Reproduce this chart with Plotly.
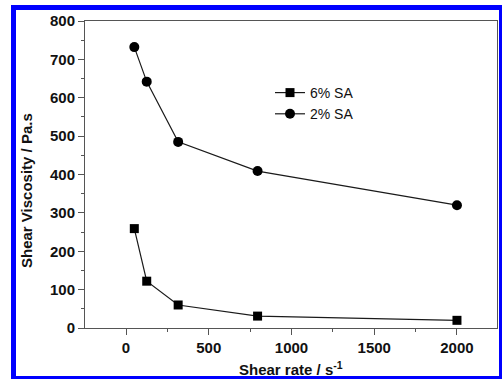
import plotly.graph_objects as go

# Shear rate (s^-1) and shear viscosity (Pa.s) for two sodium alginate solutions
shear_rate = [50, 125, 315, 795, 2000]
visc_6pct = [259, 122, 60, 31, 20]
visc_2pct = [732, 642, 485, 409, 320]
series_names = ["6% SA", "2% SA"]
x_ticks = [0, 500, 1000, 1500, 2000]
y_ticks = [0, 100, 200, 300, 400, 500, 600, 700, 800]

W, H = 502, 379
L, R, T, B = 85, 5, 21, 51
pw, ph = W - L - R, H - T - B


def px_x(p):
    return (p - L) / pw


def px_y(p):
    return (H - B - p) / ph


fig = go.Figure()
fig.add_trace(go.Scatter(
    x=shear_rate, y=visc_6pct, name=series_names[0], mode="lines+markers",
    line=dict(color="#1a1a1a", width=1.2),
    marker=dict(symbol="square", size=9, color="#000000"),
))
fig.add_trace(go.Scatter(
    x=shear_rate, y=visc_2pct, name=series_names[1], mode="lines+markers",
    line=dict(color="#1a1a1a", width=1.2),
    marker=dict(symbol="circle", size=10, color="#000000"),
))

axis_common = dict(
    showline=True, linecolor="#555555", linewidth=1, mirror=True,
    ticks="outside", ticklen=6, tickcolor="#555555", tickwidth=1,
    showgrid=False, zeroline=False,
    tickfont=dict(family="Arial", size=15, color="#111111"),
)

fig.update_xaxes(range=[-248, 2242], tickvals=x_ticks,
                 ticktext=[f"<b>{v}</b>" for v in x_ticks],
                 minor=dict(tickvals=[250, 750, 1250, 1750], ticklen=3,
                            tickcolor="#555555", ticks="outside"),
                 **axis_common)
fig.update_yaxes(range=[0, 800], tickvals=y_ticks,
                 ticktext=[f"<b>{v}</b>" for v in y_ticks],
                 minor=dict(tickvals=list(range(50, 800, 100)), ticklen=3,
                            tickcolor="#555555", ticks="outside"),
                 **axis_common)

frame = "#0000ff"
shapes = []
for x0, x1, y0, y1 in [(11, 16, 5, 379), (11, 502, 5, 10),
                       (499, 502, 5, 379), (11, 502, 376, 379)]:
    shapes.append(dict(type="rect", xref="paper", yref="paper",
                       x0=px_x(x0), x1=px_x(x1), y0=px_y(y1), y1=px_y(y0),
                       fillcolor=frame, line=dict(width=0), layer="above"))

annotations = [
    dict(text="<b>Shear rate / s<sup>-1</sup></b>", xref="paper", yref="paper",
         x=px_x(291), y=px_y(368), xanchor="center", yanchor="middle",
         showarrow=False,
         font=dict(family="Arial", size=15, color="#111111")),
    dict(text="<b>Shear Viscosity / Pa.s</b>", xref="paper", yref="paper",
         x=px_x(26), y=px_y(191), xanchor="center", yanchor="middle",
         textangle=-90, showarrow=False,
         font=dict(family="Arial", size=15, color="#111111")),
]

fig.update_layout(
    width=W, height=H,
    margin=dict(l=L, r=R, t=T, b=B),
    paper_bgcolor="white", plot_bgcolor="white",
    showlegend=True,
    legend=dict(x=px_x(270), y=px_y(77), xanchor="left", yanchor="top",
                bgcolor="rgba(0,0,0,0)", tracegroupgap=0,
                font=dict(family="Arial", size=14, color="#111111")),
    shapes=shapes, annotations=annotations,
)

fig.write_html("out.html")
